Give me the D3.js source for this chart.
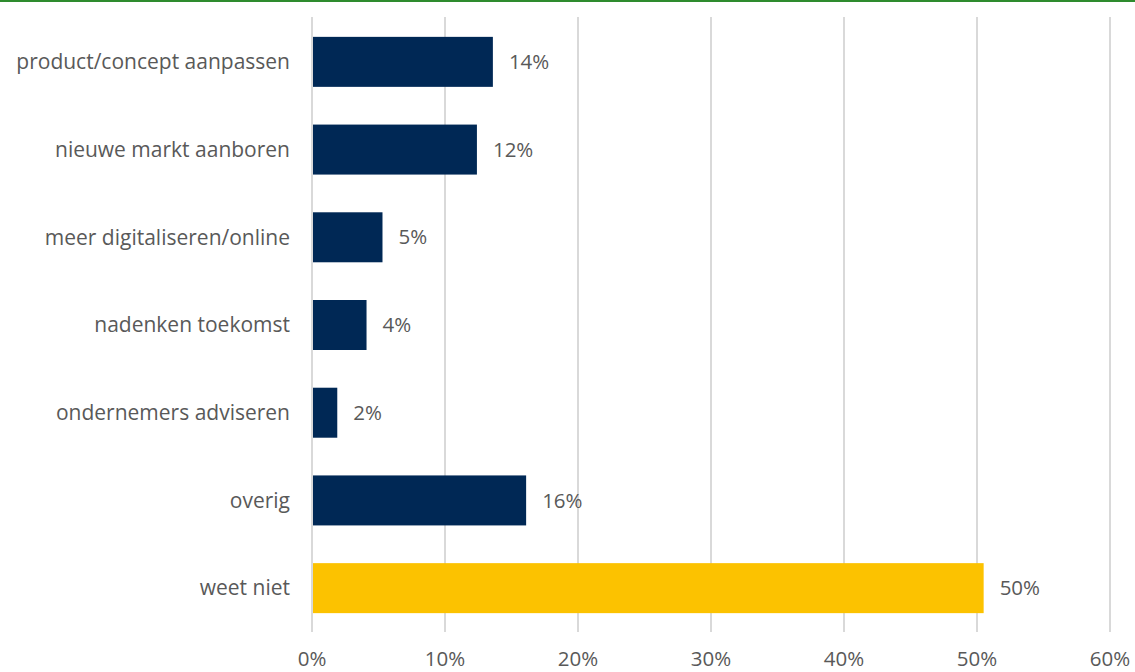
<!DOCTYPE html>
<html>
<head>
<meta charset="utf-8">
<script src="https://cdn.jsdelivr.net/npm/d3@7"></script>
<style>
  body { margin: 0; background: #fff; }
  svg text { font-family: "Open Sans", sans-serif; fill: #595959; }
</style>
</head>
<body>
<script>
const categories = ['product/concept aanpassen', 'nieuwe markt aanboren', 'meer digitaliseren/online', 'nadenken toekomst', 'ondernemers adviseren', 'overig', 'weet niet']
const values = [13.6, 12.4, 5.3, 4.1, 1.9, 16.1, 50.5]
const valueLabels = ['14%', '12%', '5%', '4%', '2%', '16%', '50%']
const ticks = [0, 10, 20, 30, 40, 50, 60]

const width = 1135
const height = 672

const svg = d3.select('body').append('svg').attr('width', width).attr('height', height)

// green line at the top
svg.append('rect').attr('x', 0).attr('y', 0).attr('width', width).attr('height', 2).attr('fill', '#2e8b2e')

const x = d3.scaleLinear().domain([0, 60]).range([312, 1110])
const y = d3.scaleBand().domain(categories).range([18, 632]).paddingInner(0.43).paddingOuter(0.215)

svg.selectAll('.grid').data(ticks).enter().append('line')
  .attr('class', 'grid')
  .attr('x1', d => x(d)).attr('x2', d => x(d))
  .attr('y1', 17).attr('y2', 632)
  .attr('stroke', '#d9d9d9').attr('stroke-width', 2)

svg.selectAll('.bar').data(categories).enter().append('rect')
  .attr('class', 'bar')
  .attr('x', x(0) + 1)
  .attr('y', d => y(d))
  .attr('width', (d, i) => x(values[i]) - x(0) - 1)
  .attr('height', y.bandwidth())
  .attr('fill', (d, i) => i === categories.length - 1 ? '#fcc200' : '#002855')

svg.selectAll('.val').data(categories).enter().append('text')
  .attr('class', 'val')
  .attr('x', (d, i) => x(values[i]) + 16)
  .attr('y', d => y(d) + y.bandwidth() / 2)
  .attr('dy', '0.35em')
  .attr('font-size', 20.5)
  .text((d, i) => valueLabels[i])

svg.selectAll('.cat').data(categories).enter().append('text')
  .attr('class', 'cat')
  .attr('x', 290)
  .attr('y', d => y(d) + y.bandwidth() / 2)
  .attr('dy', '0.35em')
  .attr('text-anchor', 'end')
  .attr('font-size', 21)
  .text(d => d)

svg.selectAll('.tick').data(ticks).enter().append('text')
  .attr('class', 'tick')
  .attr('x', d => x(d))
  .attr('y', 666)
  .attr('text-anchor', 'middle')
  .attr('font-size', 20.5)
  .text(d => d + '%')
</script>
</body>
</html>
